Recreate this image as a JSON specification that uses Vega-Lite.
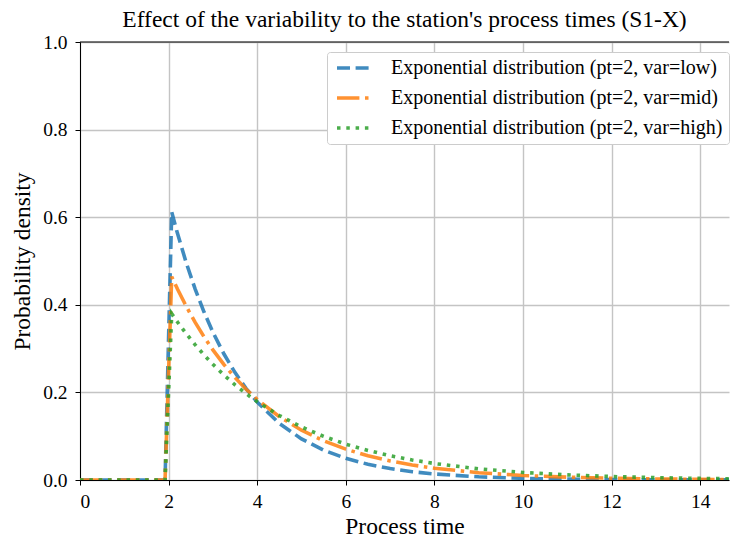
{
  "$schema": "https://vega.github.io/schema/vega-lite/v6.json",
  "width": 649,
  "height": 438,
  "autosize": {"type": "none"},
  "padding": {"left": 80, "top": 42, "right": 1, "bottom": 62},
  "background": "white",
  "title": {"text": "Effect of the variability to the station's process times (S1-X)", "font": "Liberation Serif", "fontSize": 23.5, "fontWeight": "normal", "color": "black", "offset": 1},
  "config": {
    "view": {"stroke": null},
    "axis": {
      "domainColor": "black", "domainWidth": 1, "tickColor": "black", "tickSize": 5, "tickWidth": 1,
      "labelFont": "Liberation Serif", "labelFontSize": 19.5, "labelColor": "black", "labelPadding": 3,
      "titleFont": "Liberation Serif", "titleFontSize": 23.5, "titleFontWeight": "normal", "titleColor": "black",
      "gridColor": "#c4c4c4", "gridWidth": 1.4
    }
  },
  "datasets": {
    "curves": [
      {"var": "low", "x": 0, "y": 0}, {"var": "low", "x": 1.92, "y": 0}, {"var": "low", "x": 2.07, "y": 0.612},
      {"var": "low", "x": 2.2, "y": 0.5631}, {"var": "low", "x": 2.4, "y": 0.4954}, {"var": "low", "x": 2.6, "y": 0.4359},
      {"var": "low", "x": 2.8, "y": 0.3835}, {"var": "low", "x": 3.0, "y": 0.3375}, {"var": "low", "x": 3.25, "y": 0.2876},
      {"var": "low", "x": 3.5, "y": 0.2451}, {"var": "low", "x": 3.75, "y": 0.2088}, {"var": "low", "x": 4.0, "y": 0.1779},
      {"var": "low", "x": 4.5, "y": 0.1292}, {"var": "low", "x": 5.0, "y": 0.0938}, {"var": "low", "x": 5.5, "y": 0.0681},
      {"var": "low", "x": 6.0, "y": 0.0495}, {"var": "low", "x": 6.5, "y": 0.0359}, {"var": "low", "x": 7.0, "y": 0.0261},
      {"var": "low", "x": 7.5, "y": 0.0189}, {"var": "low", "x": 8.0, "y": 0.0138}, {"var": "low", "x": 9.0, "y": 0.00725},
      {"var": "low", "x": 10.0, "y": 0.00382}, {"var": "low", "x": 11.0, "y": 0.00202}, {"var": "low", "x": 12.0, "y": 0.00106},
      {"var": "low", "x": 13.0, "y": 0.00056}, {"var": "low", "x": 14.0, "y": 0.0003}, {"var": "low", "x": 14.65, "y": 0.0002},
      {"var": "mid", "x": 0, "y": 0}, {"var": "mid", "x": 1.92, "y": 0}, {"var": "mid", "x": 2.07, "y": 0.4642},
      {"var": "mid", "x": 2.2, "y": 0.4361}, {"var": "mid", "x": 2.4, "y": 0.3961}, {"var": "mid", "x": 2.6, "y": 0.3599},
      {"var": "mid", "x": 2.8, "y": 0.3269}, {"var": "mid", "x": 3.0, "y": 0.297}, {"var": "mid", "x": 3.25, "y": 0.2634},
      {"var": "mid", "x": 3.5, "y": 0.2337}, {"var": "mid", "x": 3.75, "y": 0.2072}, {"var": "mid", "x": 4.0, "y": 0.1838},
      {"var": "mid", "x": 4.5, "y": 0.1446}, {"var": "mid", "x": 5.0, "y": 0.1137}, {"var": "mid", "x": 5.5, "y": 0.0895},
      {"var": "mid", "x": 6.0, "y": 0.0704}, {"var": "mid", "x": 6.5, "y": 0.0553}, {"var": "mid", "x": 7.0, "y": 0.0435},
      {"var": "mid", "x": 7.5, "y": 0.0343}, {"var": "mid", "x": 8.0, "y": 0.0269}, {"var": "mid", "x": 9.0, "y": 0.0167},
      {"var": "mid", "x": 10.0, "y": 0.0103}, {"var": "mid", "x": 11.0, "y": 0.0064}, {"var": "mid", "x": 12.0, "y": 0.004},
      {"var": "mid", "x": 13.0, "y": 0.0024}, {"var": "mid", "x": 14.0, "y": 0.0015}, {"var": "mid", "x": 14.65, "y": 0.0011},
      {"var": "high", "x": 0, "y": 0}, {"var": "high", "x": 1.92, "y": 0}, {"var": "high", "x": 2.07, "y": 0.3795},
      {"var": "high", "x": 2.2, "y": 0.3607}, {"var": "high", "x": 2.4, "y": 0.3337}, {"var": "high", "x": 2.6, "y": 0.3086},
      {"var": "high", "x": 2.8, "y": 0.2855}, {"var": "high", "x": 3.0, "y": 0.2641}, {"var": "high", "x": 3.25, "y": 0.2395},
      {"var": "high", "x": 3.5, "y": 0.2173}, {"var": "high", "x": 3.75, "y": 0.1971}, {"var": "high", "x": 4.0, "y": 0.1788},
      {"var": "high", "x": 4.5, "y": 0.1471}, {"var": "high", "x": 5.0, "y": 0.1211}, {"var": "high", "x": 5.5, "y": 0.0996},
      {"var": "high", "x": 6.0, "y": 0.0819}, {"var": "high", "x": 6.5, "y": 0.0674}, {"var": "high", "x": 7.0, "y": 0.0555},
      {"var": "high", "x": 7.5, "y": 0.0457}, {"var": "high", "x": 8.0, "y": 0.0376}, {"var": "high", "x": 9.0, "y": 0.0254},
      {"var": "high", "x": 10.0, "y": 0.0172}, {"var": "high", "x": 11.0, "y": 0.0117}, {"var": "high", "x": 12.0, "y": 0.0079},
      {"var": "high", "x": 13.0, "y": 0.0053}, {"var": "high", "x": 14.0, "y": 0.0036}, {"var": "high", "x": 14.65, "y": 0.0028}
    ],
    "spine": [{"top": 1}]
  },
  "layer": [
    {
      "data": {"name": "curves"},
      "mark": {"type": "line", "strokeWidth": 3.6, "opacity": 0.85, "clip": true},
      "encoding": {
        "x": {"field": "x", "type": "quantitative", "scale": {"domain": [0, 14.65], "nice": false, "zero": false},
              "axis": {"values": [0, 2, 4, 6, 8, 10, 12, 14], "format": "d", "title": "Process time", "titlePadding": 4, "labelPadding": 7}},
        "y": {"field": "y", "type": "quantitative", "scale": {"domain": [0, 1], "nice": false},
              "axis": {"values": [0, 0.2, 0.4, 0.6, 0.8, 1.0], "format": ".1f", "title": "Probability density", "titlePadding": 8, "labelPadding": 8}},
        "color": {"field": "var", "type": "nominal",
                  "scale": {"domain": ["low", "mid", "high"], "range": ["#1f77b4", "#ff7f0e", "#2ca02c"]},
                  "legend": {"title": null, "orient": "none", "legendX": 247, "legendY": 10, "fillColor": "white", "strokeColor": "#cccccc",
                             "cornerRadius": 3, "padding": 6, "symbolType": "M-2.25,0H2.25", "symbolSize": 256, "symbolStrokeWidth": 3.6,
                             "symbolOffset": 12, "symbolOpacity": 0.85, "labelFont": "Liberation Serif", "labelFontSize": 20, "labelColor": "black",
                             "labelOffset": 26, "rowPadding": 10, "labelLimit": 500,
                             "labelExpr": "'Exponential distribution (pt=2, var=' + datum.label + ')'"}},
        "strokeDash": {"field": "var", "type": "nominal",
                       "scale": {"domain": ["low", "mid", "high"], "range": [[13, 5.6], [22.4, 5.6, 3.5, 5.6], [3.5, 5.8]]},
                       "legend": {"title": null, "orient": "none", "legendX": 247, "legendY": 10, "fillColor": "white", "strokeColor": "#cccccc",
                             "cornerRadius": 3, "padding": 6, "symbolType": "M-2.25,0H2.25", "symbolSize": 256, "symbolStrokeWidth": 3.6,
                             "symbolOffset": 12, "symbolOpacity": 0.85, "labelFont": "Liberation Serif", "labelFontSize": 20, "labelColor": "black",
                             "labelOffset": 26, "rowPadding": 10, "labelLimit": 500,
                             "labelExpr": "'Exponential distribution (pt=2, var=' + datum.label + ')'"}}
      }
    },
    {
      "data": {"name": "spine"},
      "mark": {"type": "rule", "color": "black", "strokeWidth": 1},
      "encoding": {"y": {"field": "top", "type": "quantitative"}}
    }
  ]
}
